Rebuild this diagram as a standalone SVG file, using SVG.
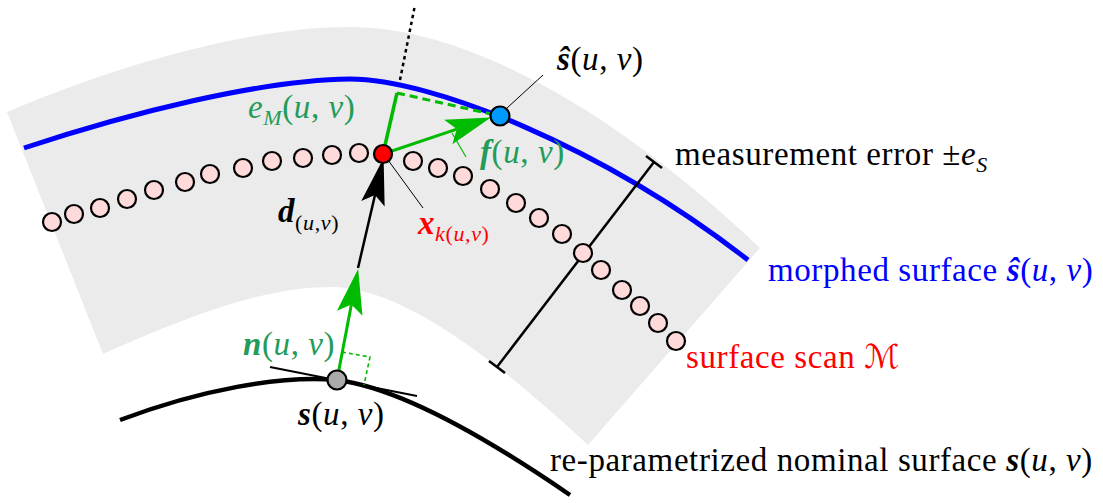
<svg xmlns="http://www.w3.org/2000/svg" width="1103" height="503" viewBox="0 0 1103 503">
<style>
text{font-family:'Liberation Serif',serif}
.lbl{font-family:'Liberation Serif',serif;font-size:33px;letter-spacing:0.6px}
.it{font-style:italic}
.bi{font-style:italic;font-weight:bold}
.sub{font-size:22px}
.g{fill:#239b5a}
.dot{fill:#ffdada;stroke:#000;stroke-width:2.2}
.lead{stroke:#000;stroke-width:1;fill:none}
.gl{stroke:#00bb00;fill:none}
</style>
<defs>
<marker id="arrK" markerUnits="userSpaceOnUse" markerWidth="50" markerHeight="30" refX="0" refY="0" orient="auto" overflow="visible">
<path d="M38,0 L-9,-12 L0,0 L-9,12 Z" fill="#000"/>
</marker>
<marker id="arrG" markerUnits="userSpaceOnUse" markerWidth="50" markerHeight="30" refX="0" refY="0" orient="auto" overflow="visible">
<path d="M36,0 L-9,-13 L0,0 L-9,13 Z" fill="#00bb00"/>
</marker>
</defs>

<g id="band">
<path d="M7,112 C120,64 250,27 350,27 C470,27 620,115 760,248 L588,445 C470,335 390,287 330,287 C260,287 180,320 103,354 Z" fill="#ebebeb"/>
</g>

<g id="morphed-surface">
<path d="M24,148 C130,113 260,80 350,79 C430,79 600,145 748,260" fill="none" stroke="#0000ff" stroke-width="5"/>
</g>

<g id="nominal-surface">
<path d="M120,420 C200,390 280,375 337,380 C400,388 490,440 570,495" fill="none" stroke="#000" stroke-width="4.5"/>
<line x1="270" y1="367" x2="417" y2="396" stroke="#000" stroke-width="2"/>
</g>

<g id="connectors">
<g id="measurement-error-bar" stroke="#000" stroke-width="2.5">
<line x1="497" y1="367" x2="654" y2="162"/>
<line x1="489" y1="361" x2="505" y2="373"/>
<line x1="646" y1="156" x2="662" y2="168"/>
</g>
<line id="ray" x1="400" y1="80" x2="415" y2="5" stroke="#000" stroke-width="2.5" stroke-dasharray="3.5,3.5"/>
<path id="right-angle" d="M342,352 L370,357 L364,385" class="gl" stroke-width="1.6" stroke-dasharray="4,3"/>
<line id="n-vec" x1="337" y1="380" x2="351.4" y2="304.4" class="gl" stroke-width="3" marker-end="url(#arrG)"/>
<line id="d-vec" x1="358" y1="268" x2="375" y2="195" stroke="#000" stroke-width="2.5" marker-end="url(#arrK)"/>
<line id="eM-line" x1="383" y1="154" x2="397" y2="93" class="gl" stroke-width="3.5"/>
<line id="eM-dash" x1="397" y1="93" x2="500" y2="116" class="gl" stroke-width="3" stroke-dasharray="8,5"/>
<line id="f-vec" x1="383" y1="154" x2="456.8" y2="129.1" class="gl" stroke-width="3" marker-end="url(#arrG)"/>
<line x1="452" y1="133" x2="466" y2="157" stroke="#00bb00" stroke-width="1.2"/>
<line class="lead" x1="388" y1="160" x2="423" y2="208"/>
<line class="lead" x1="507" y1="108" x2="543" y2="75"/>
</g>

<g id="surface-scan">
<circle class="dot" cx="52" cy="222" r="9"/>
<circle class="dot" cx="74" cy="214" r="9"/>
<circle class="dot" cx="100" cy="208" r="9"/>
<circle class="dot" cx="127" cy="199" r="9"/>
<circle class="dot" cx="154" cy="190" r="9"/>
<circle class="dot" cx="185" cy="182" r="9"/>
<circle class="dot" cx="210" cy="174" r="9"/>
<circle class="dot" cx="243" cy="168" r="9"/>
<circle class="dot" cx="272" cy="161" r="9"/>
<circle class="dot" cx="303" cy="158" r="9"/>
<circle class="dot" cx="332" cy="155" r="9"/>
<circle class="dot" cx="359" cy="153" r="9"/>
<circle class="dot" cx="413" cy="161" r="9"/>
<circle class="dot" cx="438" cy="168" r="9"/>
<circle class="dot" cx="463" cy="176" r="9"/>
<circle class="dot" cx="490" cy="189" r="9"/>
<circle class="dot" cx="516" cy="203" r="9"/>
<circle class="dot" cx="539" cy="218" r="9"/>
<circle class="dot" cx="562" cy="234" r="9"/>
<circle class="dot" cx="583" cy="253" r="9"/>
<circle class="dot" cx="601" cy="270" r="9"/>
<circle class="dot" cx="622" cy="290" r="9"/>
<circle class="dot" cx="640" cy="306" r="9"/>
<circle class="dot" cx="658" cy="323" r="9"/>
<circle class="dot" cx="676" cy="341" r="9"/>
</g>

<g id="point-xk">
<circle cx="383" cy="154" r="9" fill="#ff0000" stroke="#000" stroke-width="2.2"/>
<text class="lbl" x="418" y="234" fill="#ff0000"><tspan class="bi">x</tspan><tspan class="it sub" dy="7">k</tspan><tspan class="sub">(</tspan><tspan class="it sub">u</tspan><tspan class="sub">,</tspan><tspan class="it sub">v</tspan><tspan class="sub">)</tspan></text>
</g>

<g id="point-shat">
<circle cx="500" cy="116" r="9.5" fill="#0099ff" stroke="#000" stroke-width="2.2"/>
<text class="lbl" x="557" y="70"><tspan class="bi">ŝ</tspan>(<tspan class="it">u</tspan>, <tspan class="it">v</tspan>)</text>
</g>

<g id="point-s">
<circle cx="337" cy="380" r="9.5" fill="#aaaaaa" stroke="#000" stroke-width="2.2"/>
<text class="lbl" x="298" y="425"><tspan class="bi">s</tspan>(<tspan class="it">u</tspan>, <tspan class="it">v</tspan>)</text>
</g>

<g id="labels">
<text class="lbl g" x="248" y="118"><tspan class="it">e</tspan><tspan class="it sub" dy="7">M</tspan><tspan dy="-7">(</tspan><tspan class="it">u</tspan>, <tspan class="it">v</tspan>)</text>
<text class="lbl g" x="480" y="163"><tspan class="bi">f</tspan>(<tspan class="it">u</tspan>, <tspan class="it">v</tspan>)</text>
<text class="lbl g" x="243" y="355"><tspan class="bi">n</tspan>(<tspan class="it">u</tspan>, <tspan class="it">v</tspan>)</text>
<text class="lbl" x="278" y="222"><tspan class="bi">d</tspan><tspan class="sub" dy="8">(</tspan><tspan class="it sub">u</tspan><tspan class="sub">,</tspan><tspan class="it sub">v</tspan><tspan class="sub">)</tspan></text>
<text class="lbl" x="675" y="165">measurement error ±<tspan class="it">e</tspan><tspan class="it sub" dy="7">S</tspan></text>
<text class="lbl" x="768" y="281" fill="#0000ff">morphed surface <tspan class="bi">ŝ</tspan>(<tspan class="it">u</tspan>, <tspan class="it">v</tspan>)</text>
<text class="lbl" x="686" y="368" fill="#ff0000">surface scan <tspan class="it" font-family="'DejaVu Serif','DejaVu Sans',serif">ℳ</tspan></text>
<text class="lbl" x="550" y="471">re-parametrized nominal surface <tspan class="bi">s</tspan>(<tspan class="it">u</tspan>, <tspan class="it">v</tspan>)</text>
</g>
</svg>
